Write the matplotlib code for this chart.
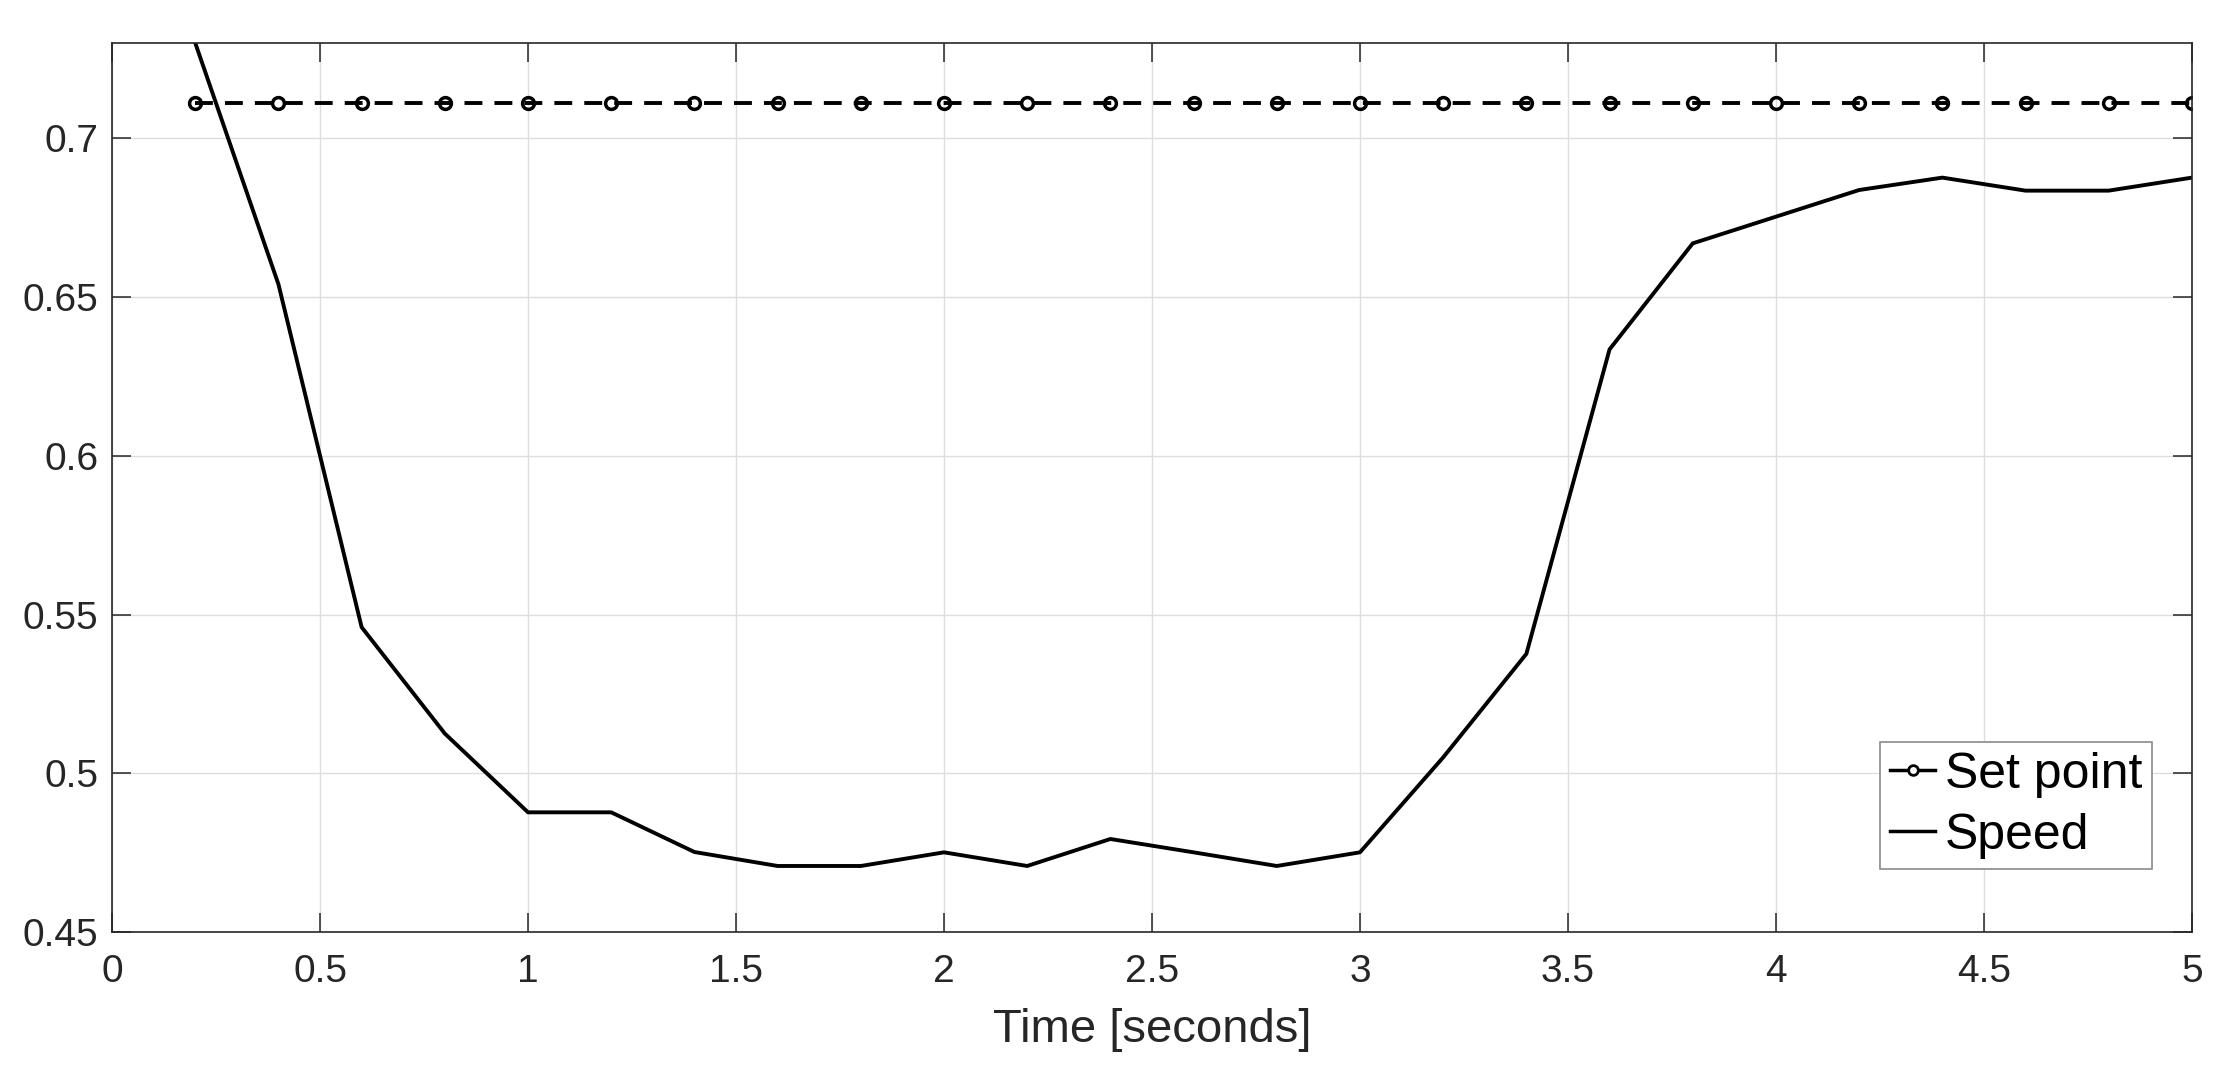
import numpy as np
import matplotlib
matplotlib.use("Agg")
import matplotlib.pyplot as plt
from matplotlib.lines import Line2D

plt.rcParams['font.family'] = ['Liberation Sans', 'DejaVu Sans']

# datos
tiempo = np.array([0.2, 0.4, 0.6, 0.8, 1.0, 1.2, 1.4, 1.6, 1.8, 2.0, 2.2, 2.4, 2.6,
                   2.8, 3.0, 3.2, 3.4, 3.6, 3.8, 4.0, 4.2, 4.4, 4.6, 4.8, 5.0])
set_point = np.full(len(tiempo), 0.711)
velocidad = np.array([0.730, 0.654, 0.546, 0.5125, 0.4877, 0.4877, 0.4752, 0.4708,
                      0.4708, 0.4751, 0.4708, 0.4793, 0.4751, 0.4708, 0.4751, 0.505,
                      0.5376, 0.6335, 0.6669, 0.6753, 0.6837, 0.6876, 0.6835, 0.6835,
                      0.6876])
xticks = [0, 0.5, 1, 1.5, 2, 2.5, 3, 3.5, 4, 4.5, 5]
yticks = [0.45, 0.5, 0.55, 0.6, 0.65, 0.7]
eje_color = '#262626'

fig = plt.figure(figsize=(22.28, 10.75), dpi=100)
ax = fig.add_axes([0.0503, 0.133, 0.9335, 0.827])

ax.plot(tiempo, set_point, color='k', lw=2.8, ls=(0, (4.6, 3.1)),
        marker='o', ms=8.5, mfc='none', mec='k', mew=2.5, label='Set point')
ax.plot(tiempo, velocidad, color='k', lw=2.8, label='Speed')

ax.set_xlim(0, 5)
ax.set_ylim(0.45, 0.73)
ax.set_xticks(xticks)
ax.set_xticklabels([f"{t:g}" for t in xticks])
ax.set_yticks(yticks)
ax.set_yticklabels([f"{t:g}" for t in yticks])
ax.grid(True, color='#dedede', lw=1.0)
ax.set_axisbelow(True)
ax.tick_params(direction='in', length=14, width=1.1, colors=eje_color,
               labelsize=28, top=True, right=True)
ax.tick_params(axis='x', pad=16)
ax.tick_params(axis='y', pad=10)
for s in ax.spines.values():
    s.set_color(eje_color)
    s.set_linewidth(1.2)
ax.set_xlabel("Time [seconds]", fontsize=34, color=eje_color, labelpad=13)

manejadores = [
    Line2D([], [], color='k', lw=2.5, marker='o', ms=7, mfc='white', mec='k', mew=2),
    Line2D([], [], color='k', lw=2.5),
]
leg = ax.legend(manejadores, ['Set point', 'Speed'], loc='lower right',
                bbox_to_anchor=(0.981, 0.071), borderaxespad=0, fontsize=36,
                handlelength=0.9, handletextpad=0.2, labelspacing=0.3,
                borderpad=0.2, fancybox=False, framealpha=1)
leg.get_frame().set_edgecolor('#8a8a8a')
leg.get_frame().set_linewidth(1.2)

fig.savefig("out.png", dpi=100)
